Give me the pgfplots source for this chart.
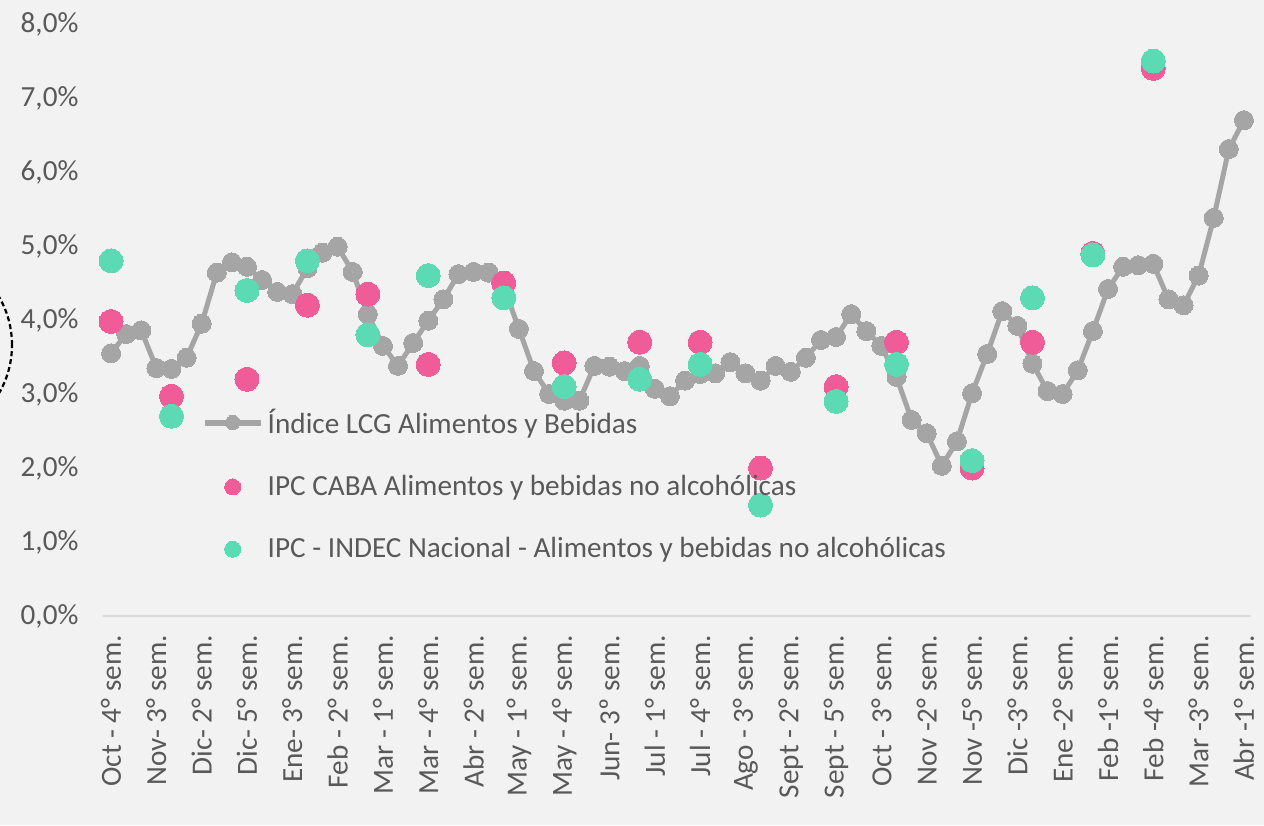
\documentclass[border=0pt]{standalone}
\usepackage{pgfplots}
\pgfplotsset{compat=1.18}
\usepackage{pgfplotstable}
\usepackage{fontspec}
\setmainfont{Carlito}
\definecolor{bgc}{HTML}{F2F2F2}
\definecolor{lcg}{HTML}{A5A5A5}
\definecolor{caba}{HTML}{F05C97}
\definecolor{indec}{HTML}{5CDAB4}
\definecolor{txt}{HTML}{595959}
\definecolor{axl}{HTML}{D9D9D9}

\newcommand{\chfont}{\fontsize{14.6}{17}\selectfont}

\pgfplotsset{
  lineleg/.style={legend image code/.code={\draw[##1, line width=3pt, mark indices={2}, mark size=3.6pt] plot coordinates {(0pt,0pt) (14pt,0pt) (28pt,0pt)};}},
  dotleg/.style={legend image code/.code={\draw[##1, mark size=4pt] plot coordinates {(14pt,0pt)};}},
}

% Indice LCG Alimentos y Bebidas (semanal)
\pgfplotstableread{
i v
0 3.55
1 3.81
2 3.86
3 3.35
4 3.34
5 3.49
6 3.95
7 4.64
8 4.78
9 4.72
10 4.54
11 4.38
12 4.35
13 4.70
14 4.91
15 4.99
16 4.65
17 4.08
18 3.65
19 3.38
20 3.69
21 3.99
22 4.28
23 4.62
24 4.65
25 4.64
26 4.45
27 3.88
28 3.31
29 3.00
30 2.91
31 2.91
32 3.38
33 3.37
34 3.31
35 3.38
36 3.07
37 2.97
38 3.18
39 3.27
40 3.28
41 3.43
42 3.28
43 3.18
44 3.38
45 3.30
46 3.49
47 3.73
48 3.77
49 4.08
50 3.85
51 3.65
52 3.23
53 2.65
54 2.47
55 2.03
56 2.36
57 3.01
58 3.54
59 4.12
60 3.92
61 3.41
62 3.04
63 3.00
64 3.32
65 3.85
66 4.42
67 4.72
68 4.74
69 4.76
70 4.28
71 4.20
72 4.60
73 5.38
74 6.31
75 6.70
}\lcgdata

\pgfplotstableread{
i v
0 3.98
4 2.97
9 3.20
13 4.20
17 4.35
21 3.40
26 4.50
30 3.42
35 3.70
39 3.70
43 2.00
48 3.10
52 3.70
57 2.00
61 3.70
65 4.90
69 7.40
}\cabadata

\pgfplotstableread{
i v
0 4.80
4 2.70
9 4.40
13 4.80
17 3.80
21 4.60
26 4.30
30 3.10
35 3.20
39 3.40
43 1.50
48 2.90
52 3.40
57 2.10
61 4.30
65 4.88
69 7.50
}\indecdata

\begin{document}
\begin{tikzpicture}
\path[use as bounding box, fill=bgc] (-51.75pt,-104.5pt) rectangle (580.25pt,308pt);
\draw[overlay, dash pattern=on 2.5pt off 1.5pt, line width=1.1pt, black] (-93.75pt,135.5pt) circle (48pt);
\begin{axis}[
  at={(0pt,0pt)}, anchor=south west,
  scale only axis, width=574pt, height=296pt,
  xmin=-0.5, xmax=75.5, ymin=0, ymax=8,
  axis x line*=bottom, axis y line*=left,
  x axis line style={draw=axl, line width=0.8pt},
  y axis line style={draw=none},
  xtick={0,3,...,75},
  xticklabels={{Oct - 4° sem.},{Nov- 3° sem.},{Dic- 2° sem.},{Dic- 5° sem.},{Ene- 3° sem.},{Feb - 2° sem.},{Mar - 1° sem.},{Mar - 4° sem.},{Abr - 2° sem.},{May - 1° sem.},{May - 4° sem.},{Jun- 3º sem.},{Jul - 1° sem.},{Jul - 4° sem.},{Ago - 3° sem.},{Sept - 2° sem.},{Sept - 5° sem.},{Oct - 3° sem.},{Nov -2° sem.},{Nov -5° sem.},{Dic -3° sem.},{Ene -2° sem.},{Feb -1° sem.},{Feb -4° sem.},{Mar -3° sem.},{Abr -1° sem.}},
  ytick={0,1,...,8},
  yticklabels={{0,0\%},{1,0\%},{2,0\%},{3,0\%},{4,0\%},{5,0\%},{6,0\%},{7,0\%},{8,0\%}},
  tick style={draw=none},
  xticklabel style={rotate=90, anchor=east, font=\chfont, text=txt, xshift=-6pt},
  yticklabel style={font=\chfont, text=txt, xshift=-9pt},
  legend cell align=left,
  legend style={draw=none, fill=none, at={(0.080,0.364)}, anchor=north west,
    font=\chfont, text=txt, row sep=15.5pt,
    /tikz/every odd column/.append style={column sep=0pt}},
]
\addplot[color=lcg, line width=2.5pt, mark=*, mark size=4.75pt, mark options={solid, fill=lcg, draw=lcg, line width=0pt}, lineleg]
  table[x=i, y=v] {\lcgdata};
\addlegendentry{Índice LCG Alimentos y Bebidas}
\addplot[only marks, mark=*, mark size=6pt, mark options={fill=caba, draw=caba, line width=0pt}, dotleg]
  table[x=i, y=v] {\cabadata};
\addlegendentry{IPC CABA Alimentos y bebidas no alcohólicas}
\addplot[only marks, mark=*, mark size=6pt, mark options={fill=indec, draw=indec, line width=0pt}, dotleg]
  table[x=i, y=v] {\indecdata};
\addlegendentry{IPC - INDEC Nacional - Alimentos y bebidas no alcohólicas}
\end{axis}
\end{tikzpicture}
\end{document}
